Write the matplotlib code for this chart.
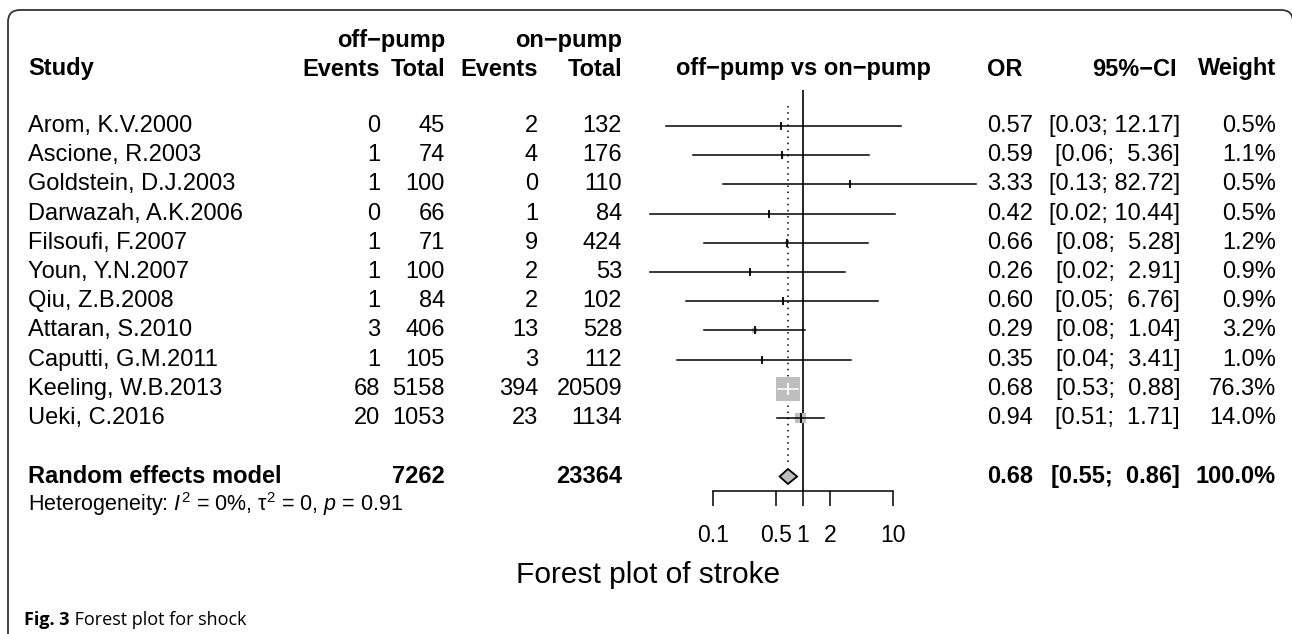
import numpy as np
import matplotlib.pyplot as plt
from matplotlib.patches import FancyBboxPatch, Polygon
from matplotlib.ticker import NullLocator

plt.rcParams['font.family'] = ['Liberation Sans', 'DejaVu Sans']
plt.rcParams['mathtext.fontset'] = 'custom'
plt.rcParams['mathtext.rm'] = 'Liberation Sans'
plt.rcParams['mathtext.it'] = 'Liberation Sans:italic'
plt.rcParams['mathtext.bf'] = 'Liberation Sans:bold'

# study level data (odds ratios for stroke, off-pump vs on-pump)
studies = ["Arom, K.V.2000", "Ascione, R.2003", "Goldstein, D.J.2003",
           "Darwazah, A.K.2006", "Filsoufi, F.2007", "Youn, Y.N.2007",
           "Qiu, Z.B.2008", "Attaran, S.2010", "Caputti, G.M.2011",
           "Keeling, W.B.2013", "Ueki, C.2016"]
off_events = [0, 1, 1, 0, 1, 1, 1, 3, 1, 68, 20]
off_total = [45, 74, 100, 66, 71, 100, 84, 406, 105, 5158, 1053]
on_events = [2, 4, 0, 1, 9, 2, 2, 13, 3, 394, 23]
on_total = [132, 176, 110, 84, 424, 53, 102, 528, 112, 20509, 1134]
odds = [0.57, 0.59, 3.33, 0.42, 0.66, 0.26, 0.60, 0.29, 0.35, 0.68, 0.94]
ci_low = [0.03, 0.06, 0.13, 0.02, 0.08, 0.02, 0.05, 0.08, 0.04, 0.53, 0.51]
ci_high = [12.17, 5.36, 82.72, 10.44, 5.28, 2.91, 6.76, 1.04, 3.41, 0.88, 1.71]
weights = [0.5, 1.1, 0.5, 0.5, 1.2, 0.9, 0.9, 3.2, 1.0, 76.3, 14.0]

# random effects summary
pooled_or = 0.68
pooled_ci = [0.55, 0.86]
pooled_total_off = 7262
pooled_total_on = 23364
het_text = r"Heterogeneity: $\mathit{I}^2$ = 0%, τ$^2$ = 0, $\mathit{p}$ = 0.91"

axis_ticks = [0.1, 0.5, 1, 2, 10]
axis_labels = ["0.1", "0.5", "1", "2", "10"]

W, H = 1292, 634
fig = plt.figure(figsize=(W / 100, H / 100), dpi=100)

# text table in pixel coordinates over the whole figure
tab = fig.add_axes([0, 0, 1, 1])
tab.set_xlim(0, W)
tab.set_ylim(H, 0)
tab.axis('off')

# forest panel: log scale, OR = 1 at x=803, 90 px per decade
x_left, x_right, x_one, px_dec = 640, 1000, 803, 90
ax = fig.add_axes([x_left / W, 0, (x_right - x_left) / W, 1])
ax.set_xscale('log')
ax.set_xlim(10 ** ((x_left - x_one) / px_dec), 10 ** ((x_right - x_one) / px_dec))
ax.set_ylim(H, 0)
ax.patch.set_visible(False)

row_y = 126 + 29.2 * np.arange(len(studies))
pool_y = 476.5
axis_y = 491
fs = 17


def put(x, y, s, ha='left', bold=False, size=fs, **kw):
    tab.text(x, y, s, ha=ha, va='center', fontsize=size,
             fontweight='bold' if bold else 'normal', **kw)


# column headers
put(445, 40, "off\u2212pump", 'right', True)
put(622, 40, "on\u2212pump", 'right', True)
put(28, 69, "Study", 'left', True)
put(380, 69, "Events", 'right', True)
put(445, 69, "Total", 'right', True)
put(538, 69, "Events", 'right', True)
put(622, 69, "Total", 'right', True)
put(803, 69, "off\u2212pump vs on\u2212pump", 'center', True)
put(1022, 69, "OR", 'right', True)
put(1177, 69, "95%\u2212CI", 'right', True)
put(1276, 69, "Weight", 'right', True)

# study rows
for i, y in enumerate(row_y):
    put(28, y, studies[i])
    put(380, y, str(off_events[i]), 'right')
    put(445, y, str(off_total[i]), 'right')
    put(538, y, str(on_events[i]), 'right')
    put(622, y, str(on_total[i]), 'right')
    put(1033, y, f"{odds[i]:.2f}", 'right')
    put(1180, y, f"[{ci_low[i]:.2f}; {ci_high[i]:5.2f}]", 'right')
    put(1276, y, f"{weights[i]:.1f}%", 'right')

# pooled row
put(28, pool_y, "Random effects model", 'left', True)
put(445, pool_y, str(pooled_total_off), 'right', True)
put(622, pool_y, str(pooled_total_on), 'right', True)
put(1033, pool_y, f"{pooled_or:.2f}", 'right', True)
put(1180, pool_y, f"[{pooled_ci[0]:.2f}; {pooled_ci[1]:5.2f}]", 'right', True)
put(1276, pool_y, "100.0%", 'right', True)
put(28, 504, het_text, 'left', size=15.5)

# reference lines
ax.vlines(1, 90, axis_y, color='black', lw=1.2)
ax.vlines(pooled_or, 106, 466, color='black', lw=1.1, linestyles=(0, (1, 3)))

# squares sized by weight, CI lines and estimate ticks
for i, y in enumerate(row_y):
    side = 24 * np.sqrt(weights[i] / 76.3)
    ax.scatter([odds[i]], [y], marker='s', s=(side * 0.72) ** 2,
               color='#BEBEBE', edgecolors='none', zorder=2)
    half = side / 2 / px_dec
    inside = (np.log10(odds[i] / ci_low[i]) < half and
              np.log10(ci_high[i] / odds[i]) < half)
    col = 'white' if inside else 'black'
    ax.plot([ci_low[i], ci_high[i]], [y, y], color=col, lw=1.1, zorder=3)
    tick_h = 7 + 0.2 * side
    ax.plot([odds[i]], [y], marker='|', markersize=tick_h * 0.72,
            markeredgewidth=1.3, color=col, zorder=4)

# pooled diamond
ax.add_patch(Polygon([(pooled_ci[0], pool_y), (pooled_or, pool_y - 7.5),
                      (pooled_ci[1], pool_y), (pooled_or, pool_y + 7.5)],
                     closed=True, facecolor='#BEBEBE', edgecolor='black',
                     lw=1.3, zorder=3))

# x axis
for side_name in ['top', 'left', 'right']:
    ax.spines[side_name].set_visible(False)
ax.spines['bottom'].set_position(('data', axis_y))
ax.spines['bottom'].set_bounds(axis_ticks[0], axis_ticks[-1])
ax.spines['bottom'].set_linewidth(1.1)
ax.yaxis.set_visible(False)
ax.set_xticks(axis_ticks)
ax.set_xticklabels(axis_labels)
ax.xaxis.set_minor_locator(NullLocator())
ax.tick_params(axis='x', direction='out', length=11, width=1.1,
               labelsize=16.5, pad=13)

put(648, 575, "Forest plot of stroke", 'center', size=21.5)

# panel frame and caption
tab.add_patch(FancyBboxPatch((8, 10), 1285, 700,
                             boxstyle='round,pad=0,rounding_size=12',
                             facecolor='none', edgecolor='#333333', lw=1.3))
cap = tab.text(24, 620, "Fig. 3", fontsize=13, fontweight='bold',
               family=['Open Sans', 'DejaVu Sans'], va='center')
fig.canvas.draw()
bb = cap.get_window_extent()
x_end = tab.transData.inverted().transform((bb.x1, bb.y0))[0]
tab.text(x_end, 620, " Forest plot for shock", fontsize=13,
         family=['Open Sans', 'DejaVu Sans'], va='center')

fig.savefig('out.png', dpi=100)
